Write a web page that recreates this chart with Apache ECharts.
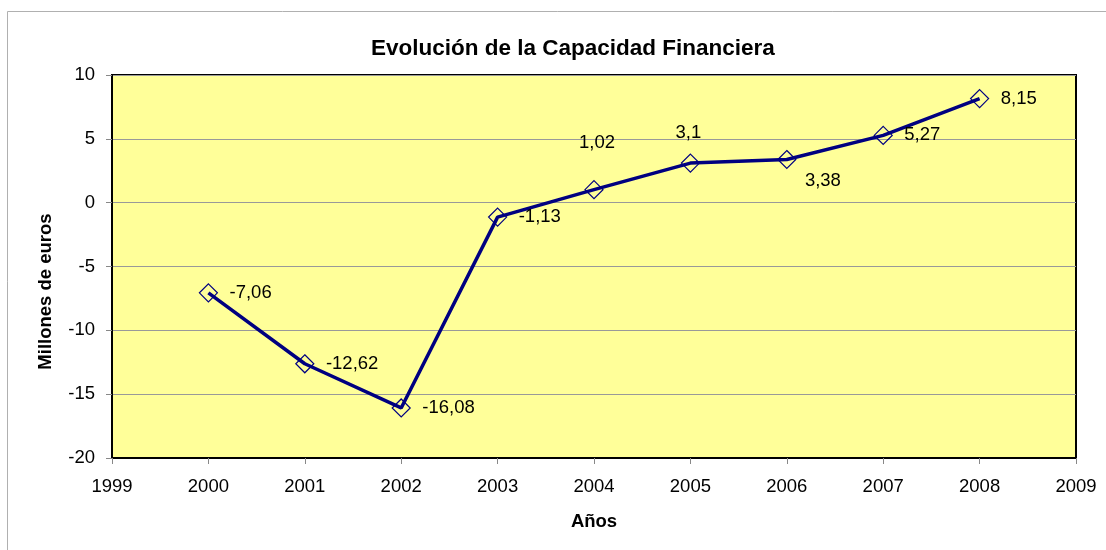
<!DOCTYPE html>
<html>
<head>
<meta charset="utf-8">
<script src="https://cdn.jsdelivr.net/npm/echarts@6/dist/echarts.min.js"></script>
<style>
  html, body { margin: 0; padding: 0; background: #fff; }
  #chart { width: 1106px; height: 550px; }
</style>
</head>
<body>
<div id="chart"></div>
<script>
// datos de la serie
const years = [2000, 2001, 2002, 2003, 2004, 2005, 2006, 2007, 2008];
const values = [-7.06, -12.62, -16.08, -1.13, 1.02, 3.1, 3.38, 5.27, 8.15];
const labelTexts = ['-7,06', '-12,62', '-16,08', '-1,13', '1,02', '3,1', '3,38', '5,27', '8,15'];

// posiciones especiales de etiquetas (como en el Excel original)
const labelOffsets = {
  4: { position: 'top', offset: [3, -16] },
  5: { position: 'top', offset: [-2, 0] },
  6: { position: 'right', offset: [-3, 21] }
};

let chart = echarts.init(document.getElementById('chart'));

let seriesData = years.map((y, i) => {
  let item = { value: [y, values[i]] };
  if (labelOffsets[i]) {
    item.label = labelOffsets[i];
  }
  return item;
});

const FONT = 'Liberation Sans, Arial, sans-serif';
let axisText = { color: '#000', fontSize: 18.5, fontFamily: FONT };

let option = {
  backgroundColor: '#fff',
  animation: false,
  title: {
    text: 'Evolución de la Capacidad Financiera',
    left: 366,
    top: 32,
    textStyle: { color: '#000', fontSize: 22.5, fontWeight: 'bold', fontFamily: FONT }
  },
  graphic: [
    {
      type: 'rect',
      shape: { x: 7.5, y: 11.5, width: 1120, height: 560 },
      style: { fill: 'none', stroke: '#b0b0b0', lineWidth: 1 },
      z: -10
    }
  ],
  grid: {
    left: 112,
    right: 30,
    top: 75,
    bottom: 92,
    show: true,
    backgroundColor: '#ffff99',
    borderColor: '#000',
    borderWidth: 2
  },
  xAxis: {
    type: 'value',
    min: 1999,
    max: 2009,
    interval: 1,
    name: 'Años',
    nameLocation: 'middle',
    nameGap: 54,
    nameTextStyle: { color: '#000', fontSize: 18.5, fontWeight: 'bold', fontFamily: FONT },
    axisLine: { show: true, onZero: false, lineStyle: { color: '#000', width: 2 } },
    axisTick: { show: true, length: 6, lineStyle: { color: '#888' } },
    axisLabel: Object.assign({ margin: 19, formatter: v => String(v) }, axisText),
    splitLine: { show: false }
  },
  yAxis: {
    type: 'value',
    min: -20,
    max: 10,
    interval: 5,
    name: 'Millones de euros',
    nameLocation: 'middle',
    nameGap: 57,
    nameTextStyle: { color: '#000', fontSize: 18.5, fontWeight: 'bold', fontFamily: FONT, padding: [0, 50, 0, 0] },
    axisLine: { show: true, onZero: false, lineStyle: { color: '#000', width: 2 } },
    axisTick: { show: true, length: 6, lineStyle: { color: '#888' } },
    axisLabel: Object.assign({ margin: 17 }, axisText),
    splitLine: { show: true, lineStyle: { color: '#999', width: 1 } }
  },
  series: [
    {
      type: 'line',
      data: seriesData,
      symbol: 'diamond',
      symbolSize: 18,
      lineStyle: { color: '#000080', width: 3.5 },
      itemStyle: { color: 'transparent', borderColor: '#000080', borderWidth: 1.2 },
      label: {
        show: true,
        position: 'right',
        distance: 11.5,
        color: '#000',
        fontSize: 18.5,
        fontFamily: FONT,
        formatter: p => labelTexts[p.dataIndex]
      }
    }
  ]
};

chart.setOption(option);
window.onresize = function () {
  chart.resize();
};
</script>
</body>
</html>
